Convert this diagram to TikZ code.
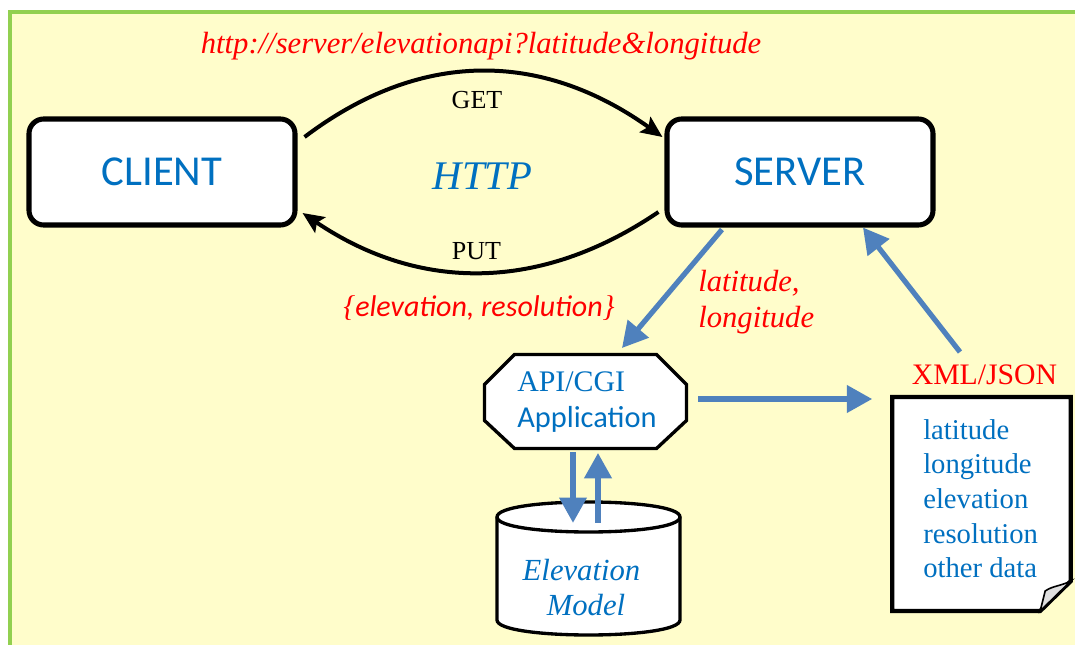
\documentclass[tikz,border=0pt]{standalone}
\usepackage{fontspec}
\setmainfont{Liberation Serif}
\newfontfamily\calibri{Carlito}
\usetikzlibrary{arrows.meta,calc}
\definecolor{bgyellow}{HTML}{FFFDCB}
\definecolor{framegreen}{HTML}{92D050}
\definecolor{txtblue}{HTML}{0070C0}
\definecolor{arrowblue}{HTML}{4F81BD}
\definecolor{txtred}{HTML}{FF0000}
\tikzset{
  endbox/.style={draw=black, line width=3.8pt, rounded corners=11pt, fill=white,
    minimum width=199.5pt, minimum height=79.5pt, text=txtblue,
    font=\calibri\fontsize{32}{38}\selectfont},
  httparrow/.style={line width=3pt, -{Stealth[length=16pt,width=14pt,inset=3pt]}},
  flow/.style={draw=arrowblue, line width=3.9pt, -{Triangle[length=19pt,width=20pt]}},
  ghost/.style={inner sep=0pt, outer sep=0pt},
  outline/.style={draw=black, fill=white, line width=2.5pt, line join=miter},
  redtext/.style={text=txtred, inner sep=0pt},
  bluetext/.style={text=txtblue, inner sep=0pt},
}
\begin{document}
\begin{tikzpicture}[x=0.75pt,y=-0.75pt]
\useasboundingbox (0,0) rectangle (1075,645);
% page background and frame
\fill[white] (0,0) rectangle (1075,645);
\fill[bgyellow] (10,12) rectangle (1075,645);
\draw[framegreen, line width=3pt] (10,645) -- (10,12) -- (1075,12);

% client and server
\node[endbox] (client) at (162,172) {CLIENT};
\node[endbox] (server) at (800,172) {SERVER};

% HTTP request and response
\draw[httparrow] ($(client.east)+(7,-35)$) .. controls +(115,-87) and +(-122,-87) .. ($(server.west)+(-2,-35)$);
\draw[httparrow] ($(server.west)+(-6,40)$) .. controls +(-118,80) and +(117,79) .. ($(client.east)+(5,41)$);
\node[anchor=base, inner sep=0pt, font=\fontsize{19.5}{24}\selectfont] (get) at (477,109) {GET};
\node[anchor=base, inner sep=0pt, font=\fontsize{19.5}{24}\selectfont] (put) at (476.5,260) {PUT};
\node[bluetext, anchor=base, font=\itshape\fontsize{30.5}{36}\selectfont] (http) at (482.5,190) {HTTP};
\node[redtext, anchor=base, font=\itshape\fontsize{23}{28}\selectfont] (url) at (481,54) {http://server/elevationapi?latitude\&longitude};
\node[redtext, anchor=base, font=\calibri\itshape\fontsize{22.5}{27}\selectfont] (reply) at (479,317)
  {{\rmfamily\{}elevation, resolution{\rmfamily\}}};

% API/CGI application (octagon)
\node[ghost, minimum width=151.5pt, minimum height=70.5pt] (api) at (585.5,401.5) {};
\draw[outline] ([xshift=22.5pt]api.north west) -- ([xshift=-22.5pt]api.north east)
  -- ([yshift=-22.5pt]api.north east) -- ([yshift=21pt]api.south east)
  -- ([xshift=-22.5pt]api.south east) -- ([xshift=22.5pt]api.south west)
  -- ([yshift=21pt]api.south west) -- ([yshift=-22.5pt]api.north west) -- cycle;
\node[bluetext, anchor=base west, font=\fontsize{22.4}{27}\selectfont] (apiname) at (517,392) {API/CGI};
\node[bluetext, anchor=base west, font=\calibri\fontsize{22.8}{27}\selectfont] (apiapp) at (517,427) {Application};

% elevation model (cylinder)
\node[ghost, minimum width=137pt, minimum height=100pt] (dem) at (588.5,568.5) {};
\filldraw[outline] (497,517) -- (497,620) .. controls (497,640) and (680,640) .. (680,620)
  -- (680,517) .. controls (680,497) and (497,497) .. (497,517) -- cycle;
\draw[outline, fill=none] (497,517) .. controls (497,537) and (680,537) .. (680,517);
\node[bluetext, anchor=base, font=\itshape\fontsize{23}{28}\selectfont] (demA) at (581.5,580) {Elevation};
\node[bluetext, anchor=base, font=\itshape\fontsize{23}{28}\selectfont] (demB) at (586,615) {Model};

% XML/JSON document with folded corner
\node[ghost, minimum width=134pt, minimum height=160.5pt] (page) at (981.5,504) {};
\draw[draw=black, fill=white, line width=3.2pt, line join=miter] (page.north west) -- (page.north east)
  -- ([yshift=22.5pt]page.south east) -- ([xshift=-23pt]page.south east) -- (page.south west) -- cycle;
\filldraw[fill=gray!25, draw=black, line width=1.2pt] ([xshift=-23pt]page.south east)
  -- ++(5,-20) .. controls +(7,-5) and +(-10,5) .. ([yshift=22.5pt]page.south east) -- cycle;
\node[redtext, anchor=base, font=\fontsize{22.3}{27}\selectfont] (xml) at (984.5,385) {XML/JSON};
\foreach \t/\y [count=\i] in {latitude/440, longitude/473, elevation/508, resolution/543, other data/577}
  \node[bluetext, anchor=base west, font=\fontsize{21.5}{26}\selectfont] (field\i) at (923,\y) {\t};

% data flow
\draw[flow] ($(server.south)+(-78,2)$) -- ($(api.north)+(36.5,-6.5)$);
\node[redtext, anchor=base west, font=\itshape\fontsize{23}{28}\selectfont] (lat) at (698,292) {latitude,};
\node[redtext, anchor=base west, font=\itshape\fontsize{23}{28}\selectfont] (lon) at (698,328) {longitude};
\draw[flow] ($(page.north)+(-21.5,-45)$) -- ($(server.south)+(63,0)$);
\draw[flow] ($(api.east)+(11.5,-2.5)$) -- ($(page.north west)+(-20,2)$);
\draw[flow] ($(api.south)+(-12.5,3.5)$) -- ($(dem.north)+(-15.5,21)$);
\draw[flow] ($(dem.north)+(9.5,21)$) -- ($(api.south)+(12.5,4.5)$);
\end{tikzpicture}
\end{document}
